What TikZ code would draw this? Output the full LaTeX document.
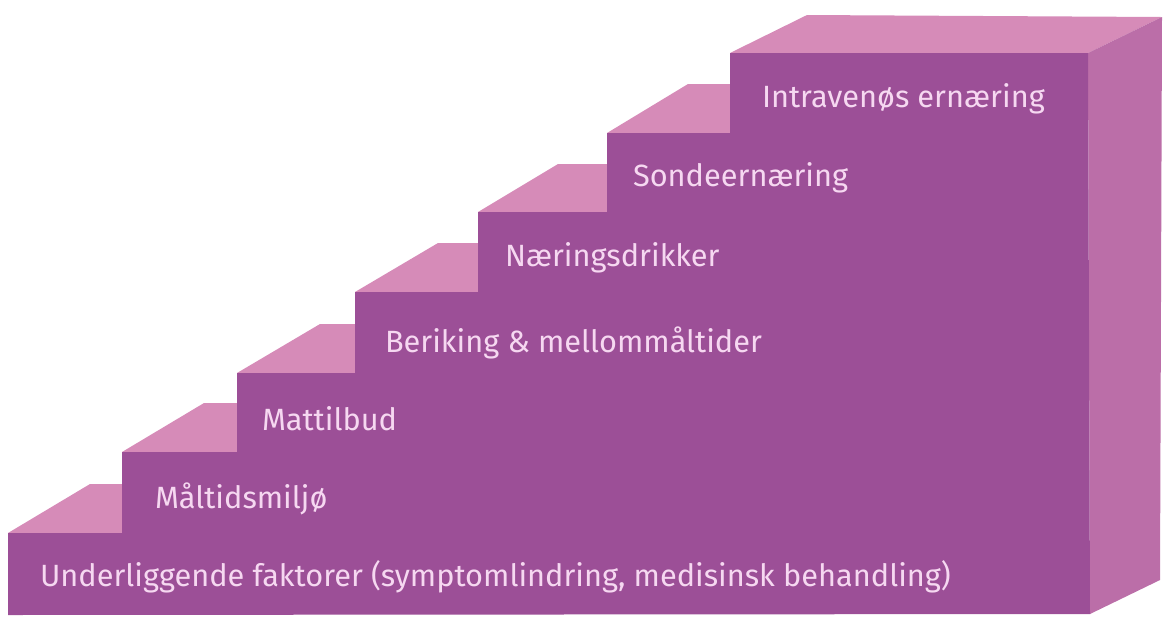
\documentclass[tikz,border=0pt]{standalone}
\usepackage{fontspec}
\setmainfont{Fira Sans}
\usepackage{xcolor}
\usetikzlibrary{positioning}

\definecolor{frontviolet}{HTML}{9C4F97}
\definecolor{topviolet}{HTML}{D68BB8}
\definecolor{sideviolet}{HTML}{BB6EA8}
\definecolor{labelpink}{HTML}{F6D8F1}

\begin{document}
\begin{tikzpicture}[
  x=0.02cm,
  y=-0.02cm,
  tread/.style={
    fill=topviolet,
    draw=none
  },
  riser/.style={
    fill=frontviolet,
    draw=none
  },
  flank/.style={
    fill=sideviolet,
    draw=none
  },
  steplabel/.style={
    anchor=base west,
    inner sep=0pt,
    outer sep=0pt,
    text=labelpink,
    font=\fontsize{17.5}{20}\selectfont
  }
]

\useasboundingbox (0,0) rectangle (1170,630);

% Treads
\foreach \xa/\xb/\ya/\dx/\dy in {8/122/533/82/49, 122/237/452/82/49,
    237/355/373/83/49, 355/478/292/83/49, 478/607/212/80/48, 607/730/133/81/49}
  \fill [tread] (\xa,\ya) -- ++(\dx,-\dy) -- (\xb,\ya-\dy) -- (\xb,\ya) -- cycle;
\fill [tread] (730,53) -- (807,15) -- (1162,17) -- (1088,53) -- cycle;

% Side
\fill [flank] (1088,53) -- (1162,17) -- (1160,580) -- (1090,614) -- cycle;

% Front
\fill [riser] (8,615) -- (8,533) -- (122,533) -- (122,452) -- (237,452)
  -- (237,373) -- (355,373) -- (355,292) -- (478,292) -- (478,212)
  -- (607,212) -- (607,133) -- (730,133) -- (730,53) -- (1088,53)
  -- (1090,614) -- cycle;

% Labels
\node [steplabel] (base) at (40,586) {Underliggende faktorer (symptomlindring, medisinsk behandling)};
\node [steplabel] (meal) at (155,508) {Måltidsmiljø};
\node [steplabel] (food) at (262,430) {Mattilbud};
\node [steplabel] (enrich) at (385,352) {Beriking \& mellommåltider};
\node [steplabel] (drinks) at (505,266) {Næringsdrikker};
\node [steplabel] (tube) at (633,186) {Sondeernæring};
\node [steplabel] (iv) at (762,107) {Intravenøs ernæring};

\end{tikzpicture}
\end{document}
